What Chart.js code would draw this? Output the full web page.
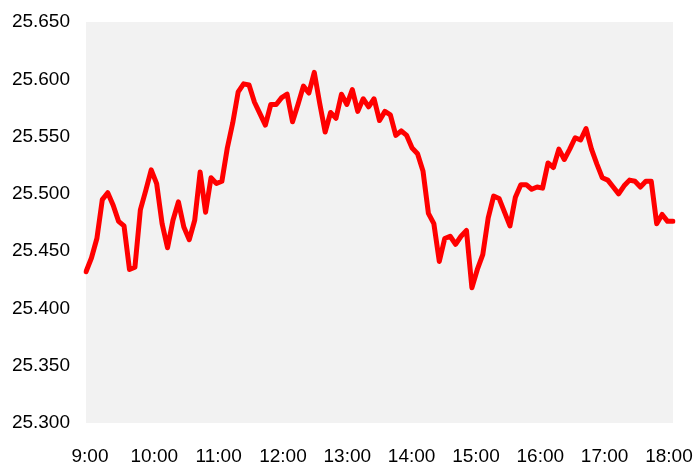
<!DOCTYPE html>
<html>
<head>
<meta charset="utf-8">
<script src="https://cdn.jsdelivr.net/npm/chart.js@4"></script>
<style>
  html, body { margin: 0; padding: 0; background: #ffffff; }
  #wrap { width: 694px; height: 465px; }
</style>
</head>
<body>
<div id="wrap"><canvas id="chartPrice"></canvas></div>
<script>
// 5-minute quotes from 9:00 to 18:00 (109 points)
const hourLabels = ['9:00', '10:00', '11:00', '12:00', '13:00', '14:00', '15:00', '16:00', '17:00', '18:00'];

const prices = [
  25.432, 25.444, 25.461, 25.495, 25.501, 25.490, 25.476, 25.472, 25.434, 25.436,
  25.486, 25.503, 25.521, 25.509, 25.474, 25.453, 25.477, 25.493, 25.471, 25.460,
  25.477, 25.519, 25.484, 25.514, 25.509, 25.511, 25.540, 25.562, 25.589, 25.596,
  25.595, 25.580, 25.570, 25.560, 25.578, 25.578, 25.584, 25.587, 25.563, 25.578,
  25.594, 25.588, 25.606, 25.579, 25.554, 25.571, 25.566, 25.587, 25.578, 25.591,
  25.572, 25.583, 25.576, 25.583, 25.564, 25.572, 25.569, 25.551, 25.555, 25.551,
  25.540, 25.535, 25.520, 25.483, 25.474, 25.441, 25.461, 25.463, 25.456, 25.463,
  25.468, 25.418, 25.434, 25.447, 25.479, 25.498, 25.496, 25.484, 25.472, 25.497,
  25.508, 25.508, 25.504, 25.506, 25.505, 25.527, 25.523, 25.539, 25.530, 25.539,
  25.549, 25.547, 25.557, 25.539, 25.526, 25.514, 25.512, 25.506, 25.500, 25.507,
  25.512, 25.511, 25.506, 25.511, 25.511, 25.474, 25.482, 25.476, 25.476
];

const yMin = 25.300;
const yMax = 25.650;
const yStep = 0.050;

// category per 5-minute slot
const timeLabels = [];
hourLabels.forEach(function (h, i) {
  timeLabels.push(h);
  if (i < hourLabels.length - 1) {
    for (let m = 5; m < 60; m += 5) {
      timeLabels.push(h.split(':')[0] + ':' + String(m).padStart(2, '0'));
    }
  }
});

// grey plot background
const plotBackground = {
  id: 'plotBackground',
  beforeDatasetsDraw(chart) {
    const a = chart.chartArea;
    const ctx = chart.ctx;
    ctx.save();
    ctx.fillStyle = '#f2f2f2';
    ctx.fillRect(a.left, a.top, a.right - a.left, a.bottom - a.top);
    ctx.restore();
  }
};

const tickFont = { family: '"Liberation Sans", Arial, sans-serif', size: 19 };

new Chart(document.getElementById('chartPrice'), {
  type: 'line',
  data: {
    labels: timeLabels,
    datasets: [{
      data: prices,
      xAxisID: 'x',
      borderColor: '#ff0000',
      borderWidth: 5,
      pointRadius: 0,
      tension: 0,
      borderJoinStyle: 'round',
      borderCapStyle: 'round'
    }]
  },
  options: {
    responsive: true,
    maintainAspectRatio: false,
    animation: false,
    layout: { padding: { top: 22, right: 21, left: 0, bottom: 0 } },
    plugins: {
      legend: { display: false },
      tooltip: { enabled: false }
    },
    scales: {
      // data axis, no labels of its own
      x: {
        type: 'category',
        offset: false,
        display: false
      },
      // hour labels, sitting slightly inside the plot edges like the original
      hours: {
        type: 'linear',
        position: 'bottom',
        min: -0.062,
        max: 9.063,
        grid: { display: false, drawTicks: false },
        border: { display: false },
        ticks: {
          stepSize: 1,
          autoSkip: false,
          maxRotation: 0,
          minRotation: 0,
          padding: 22,
          color: '#000000',
          font: tickFont,
          callback: function (value) {
            return Number.isInteger(value) ? hourLabels[value] : '';
          }
        },
        afterBuildTicks: function (scale) {
          scale.ticks = hourLabels.map(function (_, i) { return { value: i }; });
        },
        afterFit: function (scale) {
          scale.height = 42;
          scale.paddingLeft = 0;
          scale.paddingRight = 0;
        }
      },
      y: {
        min: yMin,
        max: yMax,
        grid: { display: false, drawTicks: false },
        border: { display: false },
        ticks: {
          stepSize: yStep,
          padding: 16,
          color: '#000000',
          font: tickFont,
          callback: function (value) { return value.toFixed(3); }
        },
        afterFit: function (scale) {
          scale.width = 86;
          scale.paddingTop = 0;
          scale.paddingBottom = 0;
        }
      }
    }
  },
  plugins: [plotBackground]
});
</script>
</body>
</html>
